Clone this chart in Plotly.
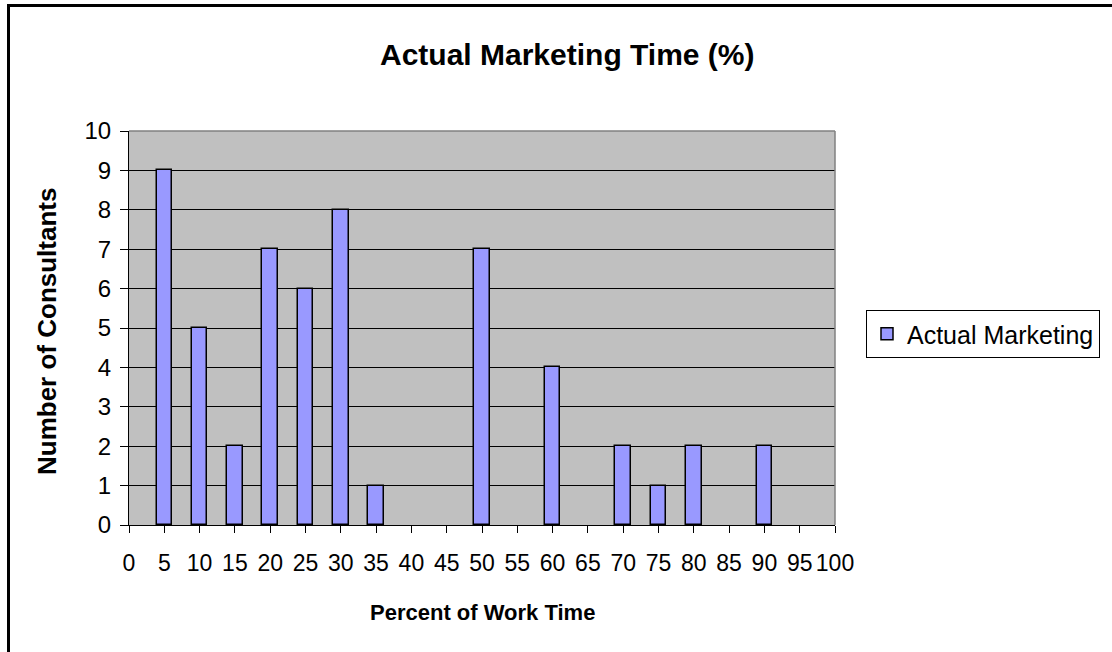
import plotly.graph_objects as go

categories = [0, 5, 10, 15, 20, 25, 30, 35, 40, 45, 50, 55, 60, 65, 70, 75, 80, 85, 90, 95, 100]
consultants = [0, 9, 5, 2, 7, 6, 8, 1, 0, 0, 7, 0, 4, 0, 2, 1, 2, 0, 2, 0, 0]
y_ticks = list(range(0, 11))

W, H = 1112, 652
L, R, T, B = 129, 835, 131, 525
pw, ph = R - L, B - T

def px(x):
    return (x - L) / pw

def py(y):
    return (B - y) / ph

FONT = "Liberation Sans, Arial, sans-serif"

plot_y = [v if v != 0 else None for v in consultants]

fig = go.Figure()
fig.add_trace(go.Bar(
    x=categories, y=plot_y, name="Actual Marketing",
    width=2.2,
    marker=dict(color="#9999FF", line=dict(color="black", width=1.5)),
))

fig.update_layout(
    width=W, height=H,
    margin=dict(l=L, r=W - R, t=T, b=H - B, pad=0, autoexpand=False),
    paper_bgcolor="white",
    plot_bgcolor="#C0C0C0",
    font=dict(family=FONT, size=23, color="black"),
    showlegend=True,
    legend=dict(
        x=px(866), y=py(310), xanchor="left", yanchor="top",
        bordercolor="black", borderwidth=1, bgcolor="white",
        font=dict(size=25, family=FONT),
    ),
    xaxis=dict(
        range=[0, 100], tickvals=categories, ticktext=[str(c) for c in categories],
        showgrid=False, zeroline=False, showline=True, linecolor="black", linewidth=1,
        ticks="outside", ticklen=7, tickcolor="black", tickfont=dict(size=23),
        ticklabelstandoff=10,
    ),
    yaxis=dict(
        range=[0, 10], tickvals=y_ticks, showgrid=True, gridcolor="black", gridwidth=1,
        zeroline=False, showline=True, linecolor="black", linewidth=1,
        ticks="outside", ticklen=8, tickcolor="black", tickfont=dict(size=24),
        ticklabelstandoff=4,
    ),
    bargap=0,
    annotations=[
        dict(text="<b>Actual Marketing Time (%)</b>", x=px(567), y=py(54), xref="paper", yref="paper",
             showarrow=False, font=dict(size=30, family=FONT), xanchor="center", yanchor="middle"),
        dict(text="<b>Percent of Work Time</b>", x=px(482), y=py(612), xref="paper", yref="paper",
             showarrow=False, font=dict(size=22, family=FONT), xanchor="center", yanchor="middle"),
        dict(text="<b>Number of Consultants</b>", x=px(47), y=py(332), xref="paper", yref="paper",
             showarrow=False, textangle=-90, font=dict(size=26, family=FONT), xanchor="center", yanchor="middle"),
    ],
    shapes=[
        dict(type="line", xref="paper", yref="paper", x0=0, x1=1, y0=1, y1=1,
             line=dict(color="#808080", width=1.5), layer="above"),
        dict(type="line", xref="paper", yref="paper", x0=1, x1=1, y0=0, y1=1,
             line=dict(color="#808080", width=1.5), layer="above"),
        dict(type="line", xref="paper", yref="paper", x0=px(8.5), x1=px(8.5), y0=py(5), y1=py(660),
             line=dict(color="black", width=3)),
        dict(type="line", xref="paper", yref="paper", x0=px(7), x1=px(1120), y0=py(5.5), y1=py(5.5),
             line=dict(color="black", width=3)),
    ],
)

fig.write_html("out.html")
